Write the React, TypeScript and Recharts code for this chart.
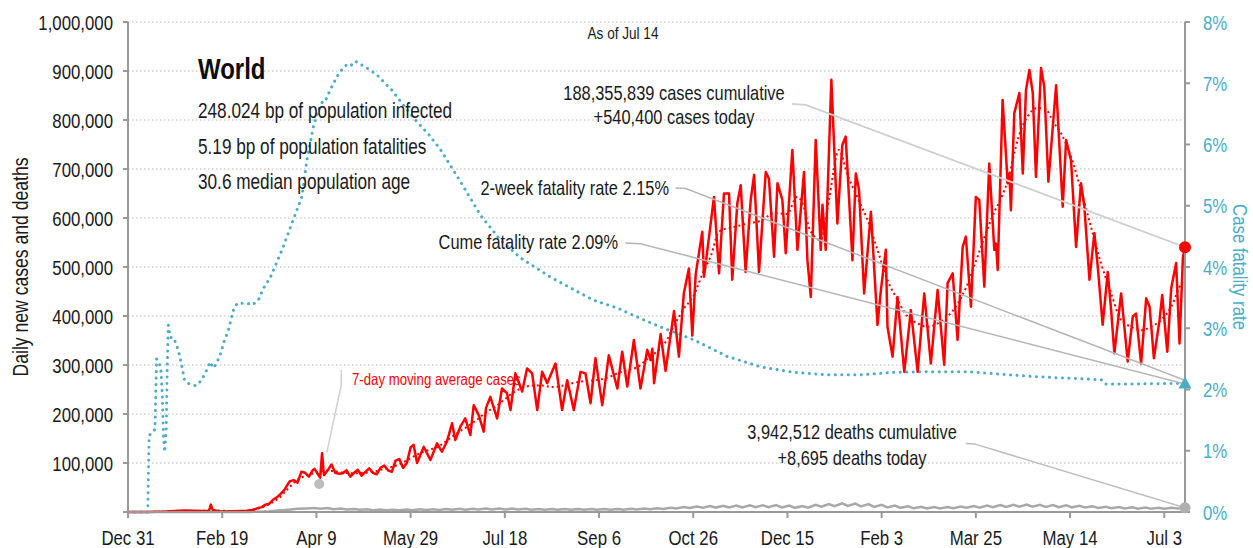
import React from 'react';
import { LineChart, Line, XAxis, YAxis, CartesianGrid, ReferenceDot } from 'recharts';

const FONT = "'Liberation Sans', Arial, sans-serif";
const SX = 0.8; // horizontal condensing of the sans face, to mimic the condensed original
const TEAL = '#4BACC6';
const RED = '#FF0000';
const GRAY = '#A8A8A8';
const INK = '#1a1a1a';

const xTickDays = [0, 50, 100, 150, 200, 250, 300, 350, 400, 450, 500, 550];
const xTickLabels = ['Dec 31', 'Feb 19', 'Apr 9', 'May 29', 'Jul 18', 'Sep 6', 'Oct 26', 'Dec 15', 'Feb 3', 'Mar 25', 'May 14', 'Jul 3'];
const leftTicks = [0, 100000, 200000, 300000, 400000, 500000, 600000, 700000, 800000, 900000, 1000000];
const rightTicks = [0, 1, 2, 3, 4, 5, 6, 7, 8];

// [day since Dec 31 2019, daily new cases]
const dailyCases: [number, number][] = [
  [0, 0], [10, 20], [20, 800], [25, 2000], [30, 3000], [35, 2500], [40, 2000], [43, 2500], [44, 15000], [45, 4000],
  [48, 1500], [52, 1000], [56, 1500], [60, 2000], [63, 2500], [66, 4000], [69, 8000], [71, 10000], [73, 15000], [75, 17000],
  [77, 25000], [79, 30000], [81, 37000], [83, 45000], [85, 58000], [86, 63000], [88, 65000], [90, 60000], [92, 82000], [94, 80000],
  [96, 72000], [98, 85000], [99, 88000], [101, 76000], [102, 70000], [103, 120000], [104, 75000], [106, 85000], [108, 97000], [110, 80000],
  [112, 78000], [114, 79000], [116, 85000], [118, 72000], [120, 80000], [122, 86000], [124, 74000], [126, 82000], [128, 89000], [130, 80000],
  [132, 77000], [134, 90000], [136, 95000], [138, 85000], [140, 82000], [142, 105000], [144, 108000], [146, 90000], [148, 100000], [150, 132000],
  [151.6, 137000], [153.4, 100000], [157, 133000], [160.5, 106000], [164, 140000], [166.6, 123000], [169.3, 144000], [172, 181000], [173.7, 147000], [176.4, 174000],
  [179, 191000], [181.7, 157000], [183.5, 218000], [186.1, 198000], [188.8, 164000], [190, 212000], [192.3, 235000], [195.9, 191000], [198.5, 252000], [201.2, 242000],
  [203, 208000], [205.6, 283000], [209.2, 246000], [211.8, 293000], [214.5, 283000], [217.2, 208000], [219.8, 286000], [222.5, 263000], [226.9, 303000], [230.4, 208000],
  [233.1, 269000], [236.6, 208000], [240.2, 286000], [242.8, 283000], [245.5, 222000], [248.1, 314000], [251.7, 218000], [255.2, 320000], [259.7, 252000], [262.3, 327000],
  [265, 256000], [268.5, 351000], [272, 252000], [275.6, 331000], [277.4, 310000], [278.3, 333000], [279.2, 263000], [282.7, 363000], [285.3, 288000], [289.8, 410000],
  [292.4, 317000], [295, 446000], [297.7, 497000], [299.5, 360000], [301.3, 485000], [304.8, 572000], [305.7, 480000], [308.4, 562000], [311, 643000], [313.7, 487000],
  [316.3, 650000], [319, 650000], [320.7, 474000], [323.4, 630000], [325.2, 667000], [327.8, 490000], [330.5, 637000], [332.3, 688000], [334.9, 490000], [338.5, 694000],
  [340.2, 680000], [342.9, 521000], [344.7, 671000], [347.3, 637000], [349.1, 528000], [352.6, 739000], [355.3, 535000], [358.8, 694000], [360.6, 514000], [362.4, 439000],
  [365, 759000], [367.7, 535000], [368.6, 627000], [370.3, 535000], [373.3, 882000], [376.5, 589000], [379.1, 749000], [380.9, 766000], [384.5, 514000], [386.3, 691000],
  [388, 657000], [390.7, 446000], [394.3, 613000], [397.8, 382000], [399.6, 453000], [402.2, 535000], [403.1, 378000], [405.8, 317000], [408.4, 439000], [412, 286000],
  [415.5, 412000], [419.1, 286000], [422.6, 446000], [426.1, 303000], [429.7, 453000], [433.2, 300000], [435, 467000], [437.7, 487000], [440.3, 351000], [443, 541000],
  [444.7, 562000], [447.4, 419000], [450, 643000], [451.8, 637000], [454.5, 460000], [457.1, 711000], [459.8, 535000], [460.7, 548000], [461.6, 494000], [464.2, 841000],
  [466.9, 671000], [467.8, 691000], [468.6, 616000], [470.4, 814000], [473.1, 855000], [474.9, 691000], [476.6, 861000], [478.4, 902000], [480.2, 855000], [481.9, 684000],
  [484.6, 906000], [486.3, 868000], [488.5, 674000], [492.6, 871000], [496.1, 623000], [497.9, 759000], [500.5, 718000], [503.2, 541000], [505.8, 671000], [507.6, 623000],
  [510.3, 474000], [512.9, 569000], [514.7, 501000], [517.3, 382000], [520, 490000], [521.8, 412000], [523.5, 324000], [527.1, 446000], [530.6, 307000], [533.3, 399000],
  [535, 405000], [537.7, 303000], [540.4, 436000], [542.2, 419000], [544.5, 314000], [547.5, 392000], [548.9, 443000], [551.6, 327000], [553.7, 457000], [556.3, 508000],
  [558.1, 344000], [559.9, 520000], [561, 540400],
];

// [day, 7-day moving average cases]
const movingAvgCases: [number, number][] = [
  [0, 0], [20, 500], [40, 2500], [45, 4000], [50, 2500], [60, 2000], [65, 3500], [70, 8000], [75, 16000], [80, 28000],
  [85, 48000], [90, 66000], [95, 75000], [100, 80000], [105, 84000], [110, 83000], [115, 80000], [120, 79000], [125, 80000], [130, 82000],
  [135, 87000], [140, 92000], [145, 99000], [150, 110000], [155, 120000], [160, 127000], [165, 134000], [170, 148000], [175, 162000], [180, 174000],
  [185, 188000], [190, 203000], [195, 215000], [200, 230000], [205, 245000], [210, 254000], [215, 258000], [220, 258000], [225, 255000], [230, 257000],
  [235, 262000], [240, 266000], [245, 268000], [250, 270000], [255, 275000], [260, 283000], [265, 290000], [270, 295000], [275, 310000], [280, 325000],
  [285, 345000], [290, 382000], [295, 415000], [300, 440000], [305, 487000], [310, 530000], [312.6, 565000], [315, 575000], [320, 580000], [325, 585000],
  [330, 590000], [334, 592000], [338, 600000], [343, 610000], [349.8, 608000], [355, 643000], [358, 630000], [362, 575000], [367.7, 555000], [372, 637000],
  [377.3, 739000], [381.7, 690000], [387, 643000], [392.5, 596000], [397.8, 535000], [403, 474000], [408.4, 433000], [413.7, 399000], [419, 385000], [424.4, 378000],
  [429.7, 385000], [435, 399000], [440.3, 425000], [445, 460000], [449, 501000], [458, 596000], [467, 678000], [472.7, 766000], [478, 810000], [482, 824000],
  [486.3, 824000], [491.6, 793000], [495.2, 773000], [500.5, 725000], [505.8, 657000], [511.1, 582000], [516.4, 508000], [521.8, 446000], [527, 392000], [532.4, 378000],
  [537.7, 371000], [543, 378000], [548.4, 392000], [553.7, 419000], [559, 466000], [561, 475000],
];

// [day, daily new deaths]
const dailyDeaths: [number, number][] = [
  [0, 0], [20, 50], [40, 100], [60, 60], [65, 200], [70, 600], [75, 1500], [80, 3000], [85, 4800], [90, 6500],
  [95, 7200], [99, 8000], [102, 6500], [106, 8200], [109, 5500], [113, 7000], [116, 5000], [120, 6200], [123, 4500], [127, 5600],
  [130, 3800], [134, 5200], [137, 3600], [141, 4800], [144, 3500], [148, 5200], [151, 3800], [155, 5400], [158, 4000], [162, 5600],
  [165, 4200], [169, 6000], [172, 4500], [176, 6600], [179, 4800], [183, 6800], [186, 5000], [190, 6900], [193, 5000], [197, 7000],
  [200, 5100], [204, 6900], [207, 4900], [211, 6500], [214, 4800], [218, 6300], [221, 4600], [225, 6100], [228, 4500], [232, 6000],
  [235, 4400], [239, 6200], [242, 4600], [246, 6000], [249, 4500], [253, 6000], [256, 4500], [260, 6200], [263, 4800], [267, 6500],
  [270, 5000], [274, 7000], [277, 5500], [281, 7800], [284, 6000], [288, 8800], [291, 7000], [295, 10000], [298, 8000], [302, 11000],
  [305, 8500], [309, 12000], [312, 9000], [316, 12500], [319, 9500], [323, 13000], [326, 9500], [330, 13500], [333, 10000], [337, 13500],
  [340, 10000], [344, 14000], [347, 9500], [351, 13000], [354, 8500], [358, 12000], [361, 9000], [365, 14500], [368, 11000], [372, 16000],
  [375, 12000], [379, 17500], [382, 12500], [386, 17000], [389, 11500], [393, 16000], [396, 10500], [400, 14500], [403, 9500], [407, 13000],
  [410, 8500], [414, 11500], [417, 7500], [421, 10500], [424, 7000], [428, 10000], [431, 7000], [435, 10000], [438, 7500], [442, 11000],
  [445, 8500], [449, 12000], [452, 9000], [456, 13000], [459, 10000], [463, 14000], [466, 10500], [470, 14500], [473, 11000], [477, 15000],
  [480, 11000], [484, 14500], [487, 10500], [491, 14000], [494, 10000], [498, 13500], [501, 9500], [505, 12500], [508, 9000], [512, 11500],
  [515, 8000], [519, 10500], [522, 7500], [526, 10000], [529, 7000], [533, 9500], [536, 6500], [540, 9000], [543, 6500], [547, 8500],
  [550, 6500], [554, 8500], [557, 7000], [561, 8695],
];

// [day, case fatality rate %]
const fatalityRate: [number, number][] = [
  [0, 0], [10.5, 0], [11.2, 1.25], [13, 1.3], [14.3, 1.35], [15.2, 2.5], [16.5, 2.45], [17.5, 2.3], [18.2, 1.9], [18.8, 1.25],
  [19.5, 0.98], [20.3, 1.35], [20.8, 2.3], [21.4, 3.05], [22.5, 2.85], [24, 2.85], [25.5, 2.75], [27, 2.6], [28.5, 2.4], [30, 2.15],
  [32, 2.1], [36, 2.06], [39, 2.15], [41.8, 2.32], [43.5, 2.45], [45.3, 2.35], [47, 2.43], [48.9, 2.56], [51, 2.78], [53.3, 2.97],
  [56, 3.3], [58, 3.41], [63, 3.41], [66, 3.38], [69.2, 3.46], [72, 3.66], [75.4, 3.82], [77.2, 3.95], [82, 4.3], [87.7, 4.77],
  [92.3, 5.15], [95, 5.75], [98.4, 6.29], [101, 6.56], [103.7, 6.73], [105, 6.73], [107.3, 6.89], [110.9, 7.11], [113.5, 7.22], [116, 7.3],
  [118, 7.28], [120.6, 7.36], [124, 7.3], [126.8, 7.25], [132, 7.14], [140, 6.89], [146, 6.65], [152.5, 6.4], [160, 6.15], [166, 5.91],
  [177.5, 5.34], [187, 4.85], [197.7, 4.44], [208.3, 4.15], [224, 3.84], [236.6, 3.63], [247, 3.46], [259.7, 3.33], [272, 3.16], [284.4, 3.0],
  [300.4, 2.81], [318, 2.54], [335.8, 2.37], [353.5, 2.28], [371, 2.24], [389, 2.24], [406.5, 2.28], [424, 2.29], [445.6, 2.29], [481, 2.21],
  [516.5, 2.16], [518.5, 2.09], [534, 2.09], [561, 2.1],
];

// annotation leader lines (data units)
const casesLeader: [number, number][] = [[352.3, 832700], [359.7, 830700], [561, 540400]];
const deathsLeader: [number, number][] = [[444.7, 140000], [449.2, 139000], [561, 8695]];
const twoWeekLeader: [number, number][] = [[290.6, 5.29], [296, 5.28], [561, 2.15]];
const cumeLeader: [number, number][] = [[264, 4.39], [272, 4.38], [561, 2.09]];
const maLeader: [number, number][] = [[113.2, 290000], [113.2, 259000], [105.5, 121000]];

const rows = (arr: [number, number][]) => arr.map(([d, v]) => ({ d, v }));

const fmtThousands = (v: number) => (v === 0 ? '' : v.toLocaleString('en-US'));

type NTProps = {
  x: number; y: number; size: number; fill?: string; anchor?: 'start' | 'middle' | 'end';
  weight?: number | string; rotate?: number; dy?: string; children: React.ReactNode;
};
const NText = ({ x, y, size, fill = INK, anchor = 'start', weight = 400, rotate, dy, children }: NTProps) => (
  <text
    transform={`translate(${x},${y})${rotate ? ` rotate(${rotate})` : ''} scale(${SX},1)`}
    textAnchor={anchor}
    fontSize={size}
    fontFamily={FONT}
    fontWeight={weight}
    fill={fill}
    dy={dy}
  >
    {children}
  </text>
);

const XTick = (props: any) => {
  const { x, y, payload } = props;
  const i = xTickDays.indexOf(payload.value);
  return <NText x={x} y={y} size={21} anchor="middle" dy="0.71em">{i >= 0 ? xTickLabels[i] : ''}</NText>;
};
const LeftTick = (props: any) => {
  const { x, y, payload } = props;
  return <NText x={x} y={y} size={21} anchor="end" dy="0.36em">{fmtThousands(payload.value)}</NText>;
};
const RightTick = (props: any) => {
  const { x, y, payload } = props;
  return <NText x={x} y={y} size={21} anchor="start" dy="0.36em" fill={TEAL}>{`${payload.value}%`}</NText>;
};

const Triangle = (props: any) => {
  const { cx, cy } = props;
  return <path d={`M${cx},${cy - 7} L${cx + 6.5},${cy + 5} L${cx - 6.5},${cy + 5} Z`} fill={TEAL} />;
};

export default function App() {
  const W = 1253;
  const H = 548;
  return (
    <div style={{ position: 'absolute', left: 0, top: 0, width: W, height: H, fontFamily: FONT, background: '#fff' }}>
      <LineChart width={W} height={H} margin={{ top: 22, right: 0, bottom: 0, left: 0 }}>
        <CartesianGrid yAxisId="left" vertical={false} stroke="#b8b8b8" strokeDasharray="1.5 2.5" />
        <XAxis
          type="number"
          dataKey="d"
          domain={[0, 561]}
          ticks={xTickDays}
          height={36}
          stroke="#999"
          strokeWidth={2}
          tickSize={6}
          tickMargin={12}
          tick={XTick}
          interval={0}
          allowDataOverflow
        />
        <YAxis
          yAxisId="left"
          orientation="left"
          domain={[0, 1000000]}
          ticks={leftTicks}
          width={128}
          stroke="#999"
          strokeWidth={2}
          tickSize={5}
          tickMargin={10}
          tick={LeftTick}
          interval={0}
        />
        <YAxis
          yAxisId="right"
          orientation="right"
          domain={[0, 8]}
          ticks={rightTicks}
          width={68}
          stroke="#999"
          strokeWidth={2}
          tickSize={5}
          tickMargin={13}
          tick={RightTick}
          interval={0}
        />

        <Line yAxisId="left" data={rows(dailyDeaths)} dataKey="v" type="linear" stroke={GRAY} strokeWidth={2.5} dot={false} activeDot={false} isAnimationActive={false} />
        <Line yAxisId="right" data={rows(fatalityRate)} dataKey="v" type="linear" stroke={TEAL} strokeWidth={3} strokeLinecap="round" strokeDasharray="0.1 6.4" dot={false} activeDot={false} isAnimationActive={false} />
        <Line yAxisId="left" data={rows(movingAvgCases)} dataKey="v" type="monotone" stroke={RED} strokeWidth={2} strokeDasharray="2 3" dot={false} activeDot={false} isAnimationActive={false} />
        <Line yAxisId="left" data={rows(dailyCases)} dataKey="v" type="linear" stroke={RED} strokeWidth={2.5} strokeLinejoin="round" dot={false} activeDot={false} isAnimationActive={false} />

        <Line yAxisId="left" data={rows(casesLeader)} dataKey="v" type="linear" stroke="#cfcfcf" strokeWidth={1.8} dot={false} activeDot={false} isAnimationActive={false} />
        <Line yAxisId="left" data={rows(deathsLeader)} dataKey="v" type="linear" stroke="#bdbdbd" strokeWidth={1.5} dot={false} activeDot={false} isAnimationActive={false} />
        <Line yAxisId="right" data={rows(twoWeekLeader)} dataKey="v" type="linear" stroke="#b5b5b5" strokeWidth={1.5} dot={false} activeDot={false} isAnimationActive={false} />
        <Line yAxisId="right" data={rows(cumeLeader)} dataKey="v" type="linear" stroke="#b5b5b5" strokeWidth={1.5} dot={false} activeDot={false} isAnimationActive={false} />
        <Line yAxisId="left" data={rows(maLeader)} dataKey="v" type="linear" stroke="#d0d0d0" strokeWidth={1.5} dot={false} activeDot={false} isAnimationActive={false} />

        <ReferenceDot yAxisId="left" x={101.5} y={57000} r={5} fill="#bdbdbd" stroke="none" />
        <ReferenceDot yAxisId="left" x={561} y={540400} r={6} fill={RED} stroke="none" />
        <ReferenceDot yAxisId="left" x={561} y={8695} r={5.5} fill="#b0b0b0" stroke="none" />
        <ReferenceDot yAxisId="right" x={561} y={2.1} r={6} shape={Triangle} />
      </LineChart>

      <svg width={W} height={H} style={{ position: 'absolute', left: 0, top: 0, pointerEvents: 'none' }}>
        <NText x={20} y={267} rotate={-90} size={22} anchor="middle" dy="0.36em">Daily new cases and deaths</NText>
        <NText x={1241} y={267} rotate={90} size={21} anchor="middle" dy="0.36em" fill={TEAL}>Case fatality rate</NText>

        <NText x={623} y={39} size={17} anchor="middle">As of Jul 14</NText>

        <NText x={198} y={79} size={30} weight={700} fill="#0d0d0d">World</NText>
        <NText x={198} y={118} size={21.5}>248.024 bp of population infected</NText>
        <NText x={198} y={154} size={21.5}>5.19 bp of population fatalities</NText>
        <NText x={198} y={189} size={21.5}>30.6 median population age</NText>

        <NText x={674} y={100} size={20.5} anchor="middle">188,355,839 cases cumulative</NText>
        <NText x={674} y={124} size={20.5} anchor="middle">+540,400 cases today</NText>

        <NText x={669} y={195} size={20.5} anchor="end">2-week fatality rate 2.15%</NText>
        <NText x={618} y={249} size={20.5} anchor="end">Cume fatality rate 2.09%</NText>

        <NText x={852} y={439} size={20.5} anchor="middle">3,942,512 deaths cumulative</NText>
        <NText x={852} y={465} size={20.5} anchor="middle">+8,695 deaths today</NText>

        <NText x={352} y={385} size={16.5} fill={RED}>7-day moving average cases</NText>
      </svg>
    </div>
  );
}
